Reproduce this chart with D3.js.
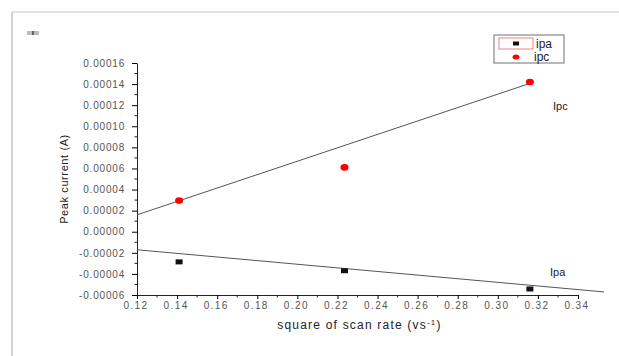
<!DOCTYPE html>
<html>
<head>
<meta charset="utf-8">
<script src="https://cdn.jsdelivr.net/npm/d3@7"></script>
<style>
  body { margin: 0; background: #fff; }
  svg { font-family: "Liberation Sans", Arial, sans-serif; }
</style>
</head>
<body>
<div id="chart"></div>
<script>
// data
const ipaX = [0.141, 0.2235, 0.316];
const ipaY = [-0.0000286, -0.000037, -0.0000543];
const ipcX = [0.141, 0.2235, 0.316];
const ipcY = [0.0000295, 0.000061, 0.000142];
// fitted lines (end points)
const ipaFitX = [0.12, 0.353];
const ipaFitY = [-0.0000171, -0.0000571];
const ipcFitX = [0.12, 0.315];
const ipcFitY = [0.0000160, 0.000140];
const xTicks = [0.12, 0.14, 0.16, 0.18, 0.20, 0.22, 0.24, 0.26, 0.28, 0.30, 0.32, 0.34];
const yTicks = [-0.00006, -0.00004, -0.00002, 0, 0.00002, 0.00004, 0.00006, 0.00008, 0.0001, 0.00012, 0.00014, 0.00016];

const width = 619;
const height = 356;
const margin = {top: 63, left: 137, bottom: 62, right: 41};

const x = d3.scaleLinear()
    .domain([0.12, 0.34])
    .range([margin.left, width - margin.right]);

const y = d3.scaleLinear()
    .domain([-0.00006, 0.00016])
    .range([height - margin.bottom + 1, margin.top]);

const svg = d3.select('#chart').append('svg')
    .attr('width', width).attr('height', height);

// page frame
svg.append('rect').attr('x', 0).attr('y', 0).attr('width', width).attr('height', height).attr('fill', '#fff');
svg.append('line').attr('x1', 12).attr('x2', width).attr('y1', 12).attr('y2', 12)
    .attr('stroke', '#e2e2e2').attr('stroke-width', 2);
svg.append('line').attr('x1', 12).attr('x2', 12).attr('y1', 12).attr('y2', height)
    .attr('stroke', '#d4d4d4').attr('stroke-width', 2);
svg.append('rect').attr('x', 27).attr('y', 31).attr('width', 12).attr('height', 4).attr('fill', '#bbb');
svg.append('rect').attr('x', 32).attr('y', 31).attr('width', 2).attr('height', 4).attr('fill', '#666');

// minor ticks
const xMinor = d3.range(0.13, 0.35, 0.02);
const yMinor = d3.range(-0.00005, 0.00016, 0.00002);

const fmtY = d => d3.format('.5f')(d).replace('−', '-');

const xAxis = g => g
    .attr('transform', `translate(0, ${y(-0.00006)})`)
    .call(d3.axisBottom(x).tickValues(xTicks).tickFormat(d3.format('.2f')).tickSize(4).tickSizeOuter(0).tickPadding(3))
    .call(g => g.selectAll('text').attr('fill', '#555').attr('font-size', 10).attr('letter-spacing', 1.4).attr('dx', -1.5))
    .call(g => g.select('.domain').attr('stroke', '#222'));

const yAxis = g => g
    .attr('transform', `translate(${margin.left}, 0)`)
    .call(d3.axisLeft(y).tickValues(yTicks).tickFormat(fmtY).tickSize(5).tickSizeOuter(0).tickPadding(7))
    .call(g => g.selectAll('text').attr('fill', '#555').attr('font-size', 10).attr('letter-spacing', 0.8))
    .call(g => g.select('.domain').attr('stroke', '#222'));

svg.append('g').call(xAxis);
svg.append('g').call(yAxis);

svg.append('g').selectAll('line').data(xMinor).enter().append('line')
    .attr('x1', d => x(d)).attr('x2', d => x(d))
    .attr('y1', y(-0.00006)).attr('y2', y(-0.00006) + 2.5)
    .attr('stroke', '#222');
svg.append('g').selectAll('line').data(yMinor).enter().append('line')
    .attr('x1', margin.left - 2.5).attr('x2', margin.left)
    .attr('y1', d => y(d)).attr('y2', d => y(d))
    .attr('stroke', '#222');

// axis titles
svg.append('text')
    .attr('x', x(0.231)).attr('y', 329)
    .attr('text-anchor', 'middle').attr('font-size', 12).attr('letter-spacing', 1.2).attr('fill', '#222')
    .html('square of scan rate (vs<tspan dy="-4" font-size="8">-1</tspan><tspan dy="4">)</tspan>');
svg.append('text')
    .attr('transform', `translate(68, ${y(0.00005)}) rotate(-90)`)
    .attr('text-anchor', 'middle').attr('font-size', 11).attr('letter-spacing', 0.6).attr('fill', '#222')
    .text('Peak current (A)');

// fit lines
const line = d3.line().x(d => x(d[0])).y(d => y(d[1]));
svg.append('path').datum(d3.zip(ipcFitX, ipcFitY))
    .attr('d', line).attr('fill', 'none').attr('stroke', '#555').attr('stroke-width', 1);
svg.append('path').datum(d3.zip(ipaFitX, ipaFitY))
    .attr('d', line).attr('fill', 'none').attr('stroke', '#555').attr('stroke-width', 1);

// points
svg.append('g').attr('fill', '#111')
    .selectAll('rect').data(d3.zip(ipaX, ipaY)).enter().append('rect')
    .attr('x', d => x(d[0]) - 3.5).attr('y', d => y(d[1]) - 2.5)
    .attr('width', 7).attr('height', 5);
svg.append('g').attr('fill', '#f00')
    .selectAll('ellipse').data(d3.zip(ipcX, ipcY)).enter().append('ellipse')
    .attr('cx', d => x(d[0])).attr('cy', d => y(d[1]))
    .attr('rx', 4).attr('ry', 3.3);

// labels near lines
svg.append('text').attr('x', 553).attr('y', 110).attr('font-size', 11).attr('fill', '#222').text('Ipc');
svg.append('text').attr('x', 550).attr('y', 276).attr('font-size', 11).attr('fill', '#222').text('Ipa');

// legend
const lg = svg.append('g').attr('transform', 'translate(494, 35)');
lg.append('rect').attr('width', 70).attr('height', 28).attr('fill', '#fff')
    .attr('stroke', '#888').attr('stroke-width', 1.2);
lg.append('rect').attr('x', 5).attr('y', 3).attr('width', 34).attr('height', 11).attr('fill', 'none')
    .attr('stroke', '#f08080').attr('stroke-width', 1);
lg.append('rect').attr('x', 19).attr('y', 6.5).attr('width', 6).attr('height', 4).attr('fill', '#111');
lg.append('ellipse').attr('cx', 22).attr('cy', 22).attr('rx', 3.5).attr('ry', 2.5).attr('fill', '#f00');
lg.append('text').attr('x', 42).attr('y', 12.5).attr('font-size', 12).attr('fill', '#222').text('ipa');
lg.append('text').attr('x', 40).attr('y', 25.5).attr('font-size', 12).attr('fill', '#222').text('ipc');
</script>
</body>
</html>
